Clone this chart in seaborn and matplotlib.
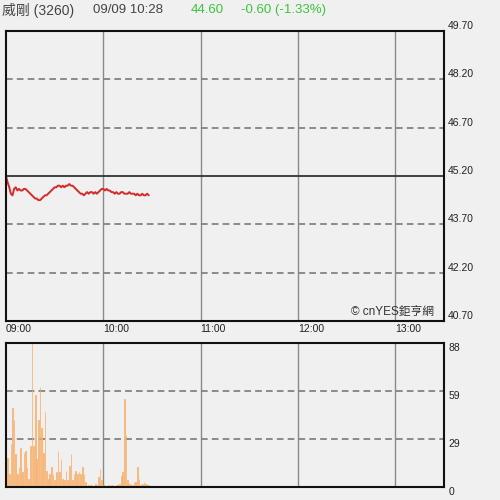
import numpy as np
import pandas as pd
import matplotlib
matplotlib.use("Agg")
import matplotlib.pyplot as plt
import seaborn as sns

# ---- data ----
stock_name = "威剛 (3260)"
timestamp = "09/09 10:28"
last_price = "44.60"
change_text = "-0.60 (-1.33%)"
prev_close = 45.20

hour_labels = ["09:00", "10:00", "11:00", "12:00", "13:00"]
hour_minutes = [0, 60, 120, 180, 240]
price_ticks = [40.70, 42.20, 43.70, 45.20, 46.70, 48.20, 49.70]
vol_ticks = [0, 88 / 3, 2 * 88 / 3, 88]
vol_tick_labels = ["0", "29", "59", "88"]

prices = [45.20, 45.00, 44.85, 44.65, 44.60, 44.80, 44.85, 44.75, 44.80, 44.75,
          44.75, 44.80, 44.80, 44.75, 44.70, 44.65, 44.60, 44.55, 44.50, 44.50,
          44.45, 44.45, 44.50, 44.55, 44.60, 44.60, 44.65, 44.70, 44.75, 44.80,
          44.85, 44.85, 44.90, 44.90, 44.85, 44.90, 44.85, 44.90, 44.90, 44.95,
          44.90, 44.90, 44.85, 44.80, 44.75, 44.70, 44.65, 44.65, 44.60, 44.65,
          44.70, 44.65, 44.70, 44.70, 44.65, 44.70, 44.65, 44.70, 44.75, 44.80,
          44.80, 44.75, 44.80, 44.75, 44.75, 44.70, 44.70, 44.65, 44.70, 44.65,
          44.65, 44.70, 44.70, 44.65, 44.65, 44.65, 44.70, 44.65, 44.65, 44.65,
          44.60, 44.65, 44.60, 44.60, 44.65, 44.60, 44.60, 44.65, 44.60]

volumes = [24, 18, 8, 26, 48, 41, 20, 8, 12, 24,
           9, 21, 22, 12, 5, 25, 88, 25, 56, 17,
           41, 61, 36, 21, 46, 10, 5, 8, 12, 8,
           4, 9, 22, 9, 17, 5, 4, 10, 4, 13,
           20, 4, 8, 10, 8, 9, 8, 12, 8, 3,
           1, 1, 1, 1, 0, 2, 1, 6, 11, 4,
           1, 1, 0, 1, 0, 1, 1, 0, 1, 2,
           2, 7, 9, 54, 32, 4, 2, 2, 1, 3,
           3, 12, 5, 1, 2, 3, 2, 2, 1]

minutes = list(range(len(prices)))
df = pd.DataFrame({"minute": minutes, "price": prices, "volume": volumes})

# ---- style ----
sns.set_theme(style="white")
bg = "#f0f0f0"
plt.rcParams["font.family"] = ["Liberation Sans", "Noto Sans CJK TC", "DejaVu Sans"]

fig = plt.figure(figsize=(5, 5), dpi=100, facecolor=bg)
ax1 = fig.add_axes([6 / 500, 1 - 321 / 500, 438 / 500, 290 / 500])
ax2 = fig.add_axes([6 / 500, 1 - 487 / 500, 438 / 500, 144 / 500])

for ax in (ax1, ax2):
    ax.set_facecolor(bg)
    for s in ax.spines.values():
        s.set_color("#111111")
        s.set_linewidth(1.5)
        s.set_visible(True)
        s.set_zorder(5)
    ax.set_xlim(0, 270)
    for m in hour_minutes[1:]:
        ax.axvline(m, color="#8a8a8a", lw=1.0, zorder=1)

# price panel
for p in price_ticks[1:-1]:
    if abs(p - prev_close) < 1e-6:
        ax1.axhline(p, color="#333333", lw=1.3, zorder=1)
    else:
        ax1.axhline(p, color="#7a7a7a", lw=1.2, ls=(0, (4, 2.5)), zorder=1)
sns.lineplot(data=df, x="minute", y="price", ax=ax1, color="#d42a2a", lw=1.4, zorder=3)
ax1.set_ylim(40.70, 49.70)
ax1.set_yticks(price_ticks)
ax1.set_yticklabels([f"{p:.2f}" for p in price_ticks])
ax1.yaxis.tick_right()
ax1.tick_params(axis="y", length=0, pad=3, labelsize=7.5, colors="#222222")
for lbl in ax1.get_yticklabels():
    lbl.set_verticalalignment("bottom")
ax1.set_xticks(hour_minutes)
ax1.set_xticklabels(hour_labels)
ax1.tick_params(axis="x", length=0, pad=2, labelsize=7.5, colors="#222222")
for lbl in ax1.get_xticklabels():
    lbl.set_horizontalalignment("left")
ax1.set_xlabel("")
ax1.set_ylabel("")
ax1.text(0.977, 0.012, "© cnYES鉅亨網", transform=ax1.transAxes, ha="right", va="bottom",
         fontsize=8.5, color="#333333")

# volume panel
for v in vol_ticks[1:-1]:
    ax2.axhline(v, color="#7a7a7a", lw=1.2, ls=(0, (4, 2.5)), zorder=1)
sns.barplot(data=df, x="minute", y="volume", ax=ax2, native_scale=True,
            color="#fcd3a8", errorbar=None, width=0.4, saturation=1,
            edgecolor="#f7aa60", linewidth=0.5, zorder=3)
ax2.set_xlim(0, 270)
ax2.set_ylim(0, 88)
ax2.set_yticks(vol_ticks)
ax2.set_yticklabels(vol_tick_labels)
ax2.yaxis.tick_right()
ax2.tick_params(axis="y", length=0, pad=3, labelsize=7.5, colors="#222222")
for lbl in ax2.get_yticklabels():
    lbl.set_verticalalignment("top")
ax2.set_xticks([])
ax2.set_xlabel("")
ax2.set_ylabel("")

# header
fig.text(2 / 500, 1 - 10 / 500, stock_name, ha="left", va="center", fontsize=10, color="#444444")
fig.text(93 / 500, 1 - 10 / 500, timestamp, ha="left", va="center", fontsize=9.5, color="#444444")
fig.text(191 / 500, 1 - 10 / 500, last_price, ha="left", va="center", fontsize=9.5, color="#3cc43c")
fig.text(241 / 500, 1 - 10 / 500, change_text, ha="left", va="center", fontsize=9.5, color="#3cc43c")

fig.savefig("out.png", dpi=100, facecolor=bg)
